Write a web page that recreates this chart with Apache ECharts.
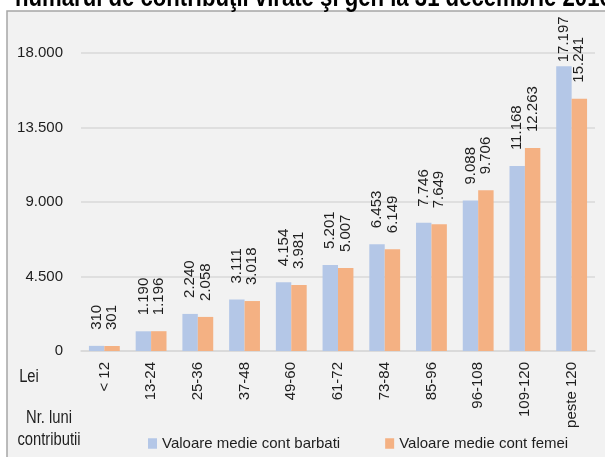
<!DOCTYPE html>
<html>
<head>
<meta charset="utf-8">
<script src="https://cdn.jsdelivr.net/npm/echarts@6/dist/echarts.min.js"></script>
<style>
    html, body { margin: 0; padding: 0; background: #fff; }
</style>
</head>
<body>
<div id="main" style="width: 605px;height:457px;"></div>
<script type="text/javascript">
    // date
    var categorii = ['< 12', '13-24', '25-36', '37-48', '49-60', '61-72', '73-84', '85-96', '96-108', '109-120', 'peste 120'];
    var barbati = [310, 1190, 2240, 3111, 4154, 5201, 6453, 7746, 9088, 11168, 17197];
    var femei = [301, 1196, 2058, 3018, 3981, 5007, 6149, 7649, 9706, 12263, 15241];
    var yTicks = [0, 4500, 9000, 13500, 18000];
    var numeSerii = ['Valoare medie cont barbati', 'Valoare medie cont femei'];
    var titlu = 'numărul de contribuţii virate şi gen la 31 decembrie 2016';

    var FONT = '"Liberation Sans", Arial, sans-serif';
    var FS = 15;
    var TXT = '#1e1e1e';
    var NARROW = 0.82; // textele din original sunt Arial Narrow

    function fmt(v) {
        return String(v).replace(/\B(?=(\d{3})+(?!\d))/g, '.');
    }

    var myChart = echarts.init(document.getElementById('main'));

    function eticheta() {
        return {
            show: true,
            position: 'top',
            rotate: 90,
            align: 'left',
            verticalAlign: 'middle',
            distance: 16,
            fontSize: FS,
            fontFamily: FONT,
            color: TXT,
            formatter: function (p) { return fmt(p.value); }
        };
    }

    // eticheta celei mai inalte bare e impinsa in jos, ca in Excel
    var dateBarbati = barbati.map(function (v, i) {
        return i === barbati.length - 1 ? { value: v, label: { distance: 4 } } : v;
    });

    function textNarrow(t, x, y, font, align) {
        return {
            type: 'text',
            x: x, y: y,
            scaleX: NARROW,
            style: { text: t, x: 0, y: 0, font: font, fill: TXT, align: align, verticalAlign: 'middle' }
        };
    }

    var titluEl = textNarrow(titlu, 15, -1.5, 'bold 27px ' + FONT, 'left');
    titluEl.style.fill = '#000';

    var option = {
        backgroundColor: '#ffffff',
        animation: false,
        textStyle: { fontFamily: FONT },
        graphic: [
            {
                type: 'rect',
                z: -1,
                shape: { x: 7, y: 11, width: 640, height: 480 },
                style: { fill: '#f2f2f2', stroke: '#a6a6a6', lineWidth: 1.5 }
            },
            titluEl,
            textNarrow('Lei', 29, 377, '18px ' + FONT, 'center'),
            textNarrow('Nr. luni', 49, 418, '18px ' + FONT, 'center'),
            textNarrow('contributii', 49, 440, '18px ' + FONT, 'center')
        ],
        grid: { left: 81, right: 10, top: 53, bottom: 106, containLabel: false },
        legend: {
            data: numeSerii,
            left: 143,
            top: 431,
            itemWidth: 9,
            itemHeight: 10.5,
            itemGap: 45,
            icon: 'rect',
            textStyle: { fontSize: FS, color: TXT, fontFamily: FONT }
        },
        xAxis: {
            type: 'category',
            data: categorii,
            axisTick: { show: false },
            axisLine: { lineStyle: { color: '#d9d9d9', width: 1.5 } },
            axisLabel: { interval: 0, rotate: 90, margin: 11, fontSize: FS, color: TXT, fontFamily: FONT }
        },
        yAxis: {
            type: 'value',
            min: yTicks[0],
            max: yTicks[yTicks.length - 1],
            interval: yTicks[1] - yTicks[0],
            axisLine: { show: false },
            axisTick: { show: false },
            splitLine: { lineStyle: { color: '#d9d9d9', width: 1.5 } },
            axisLabel: { margin: 18, fontSize: FS, color: TXT, fontFamily: FONT, formatter: fmt }
        },
        series: [
            {
                name: numeSerii[0],
                type: 'bar',
                data: dateBarbati,
                barGap: '0%',
                barCategoryGap: '34%',
                itemStyle: { color: '#b4c7e7' },
                label: eticheta()
            },
            {
                name: numeSerii[1],
                type: 'bar',
                data: femei,
                barGap: '0%',
                barCategoryGap: '34%',
                itemStyle: { color: '#f4b183' },
                label: eticheta()
            }
        ]
    };

    myChart.setOption(option);
</script>
</body>
</html>
